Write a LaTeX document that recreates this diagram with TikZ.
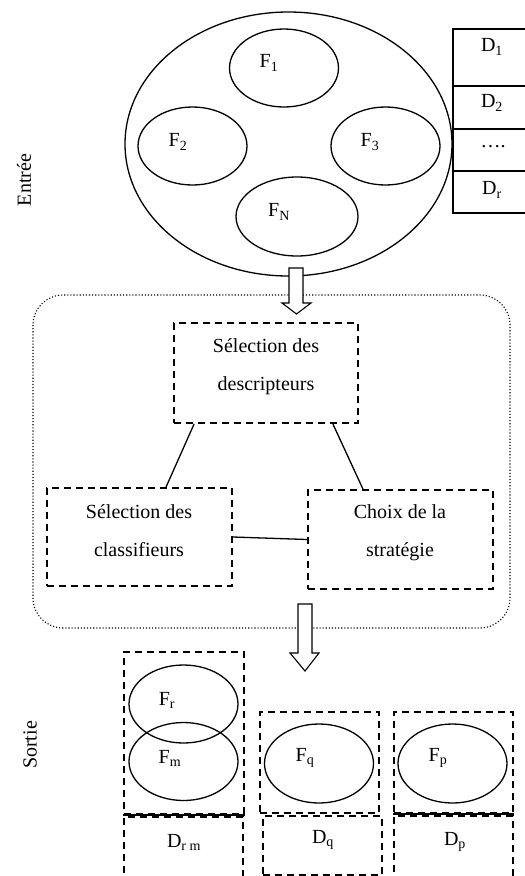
\documentclass[tikz,border=0pt]{standalone}
\usepackage{fontspec}
\setmainfont{Liberation Serif}
\usetikzlibrary{shapes.geometric}
\tikzset{
  txt/.style = {font=\fontsize{20}{38}\selectfont, inner sep=0pt, align=center},
  oval/.style = {ellipse, draw, line width=1.3pt, minimum width=109pt, minimum height=78pt, inner sep=0pt},
  dbox/.style = {draw, line width=1.7pt, dash pattern=on 7pt off 5pt, inner sep=0pt},
  bigarrow/.style = {draw, line width=1.1pt, fill=white}
}
\begin{document}
\begin{tikzpicture}[x=1pt, y=-1pt]
\useasboundingbox (0,0) rectangle (525,876);
% entree
\node[txt, rotate=90] (entree) at (24,180) {Entrée};
\node[ellipse, draw, line width=1.3pt, minimum width=327pt, minimum height=264pt] (set) at (288.5,144) {};
\node[oval] (f1) at (284,68) {};
\node[oval] (f2) at (192.5,146) {};
\node[oval] (f3) at (385.5,146) {};
\node[oval, minimum width=122pt, minimum height=79pt] (fn) at (297,216.5) {};
\node[txt] (f1t) at (269,63) {F\textsubscript{1}};
\node[txt] (f2t) at (178,142) {F\textsubscript{2}};
\node[txt] (f3t) at (370,142) {F\textsubscript{3}};
\node[txt] (fnt) at (279,212) {F\textsubscript{N}};
% descripteurs
\draw[line width=1.3pt] (530,29) -| (453,213) -- (530,213);
\foreach \y in {86,129,171} \draw[line width=1.3pt] (453,\y) -- (530,\y);
\node[txt] (d1) at (492,47) {D\textsubscript{1}};
\node[txt] (d2) at (492,103) {D\textsubscript{2}};
\node[txt] (dd) at (493,147) {….};
\node[txt] (dr) at (492,190) {D\textsubscript{r}};
% traitement
\draw[dotted, line width=1.1pt, rounded corners=30pt] (33,295) rectangle (510,628);
\draw[bigarrow] (289,268) -- (289,303) -- (282,303) -- (296.5,314) -- (311,303) -- (303,303) -- (303,268) -- cycle;
\node[dbox, minimum width=184pt, minimum height=100pt] (desc) at (266,373) {};
\node[txt] (desct) at (266,367) {Sélection des\\descripteurs};
\node[dbox, minimum width=185pt, minimum height=98pt] (clas) at (139.5,537) {};
\node[txt] (clast) at (139,531) {Sélection des\\classifieurs};
\node[dbox, minimum width=185pt, minimum height=99pt] (strat) at (400.5,539.5) {};
\node[txt] (stratt) at (400,533) {Choix de la\\stratégie};
\draw[line width=1.3pt] ([xshift=21pt]desc.south west) -- ([xshift=26.5pt]clas.north);
\draw[line width=1.3pt] ([xshift=-26pt]desc.south east) -- ([xshift=-37.5pt]strat.north);
\draw[line width=1.3pt] (clas.east) -- (strat.west);
\draw[bigarrow] (298,604) -- (298,653) -- (290,653) -- (305,671) -- (319,653) -- (312,653) -- (312,604) -- cycle;
% sortie
\node[txt, rotate=90] (sortie) at (30,745) {Sortie};
\node[dbox, minimum width=120pt, minimum height=162pt] (rm) at (184,733) {};
\node[dbox, minimum width=119pt, minimum height=73pt] (drm) at (183.5,853.5) {};
\node[dbox, minimum width=119pt, minimum height=101pt] (q) at (319.5,762.5) {};
\node[dbox, minimum width=119pt, minimum height=59pt] (dq) at (322.5,845.5) {};
\node[dbox, minimum width=119pt, minimum height=101pt] (p) at (453.5,762.5) {};
\node[dbox, minimum width=119pt, minimum height=73pt] (dp) at (453.5,852.5) {};
\draw[line width=1.4pt] (rm.south west) -- (rm.south east);
\draw[line width=1.4pt] (p.south west) -- (p.south east);
\node[oval] (fr) at (183.5,704) {};
\node[oval] (fm) at (183.5,761.5) {};
\node[oval, minimum height=79pt] (fq) at (319,763.5) {};
\node[oval, minimum height=79pt] (fp) at (452.5,763.5) {};
\node[txt] (frt) at (167,700) {F\textsubscript{r}};
\node[txt] (fmt) at (170,758) {F\textsubscript{m}};
\node[txt] (fqt) at (305,758) {F\textsubscript{q}};
\node[txt] (fpt) at (438,758) {F\textsubscript{p}};
\node[txt] (drmt) at (184,842) {D\textsubscript{r m}};
\node[txt] (dqt) at (323,840) {D\textsubscript{q}};
\node[txt] (dpt) at (455,842) {D\textsubscript{p}};
\end{tikzpicture}
\end{document}
